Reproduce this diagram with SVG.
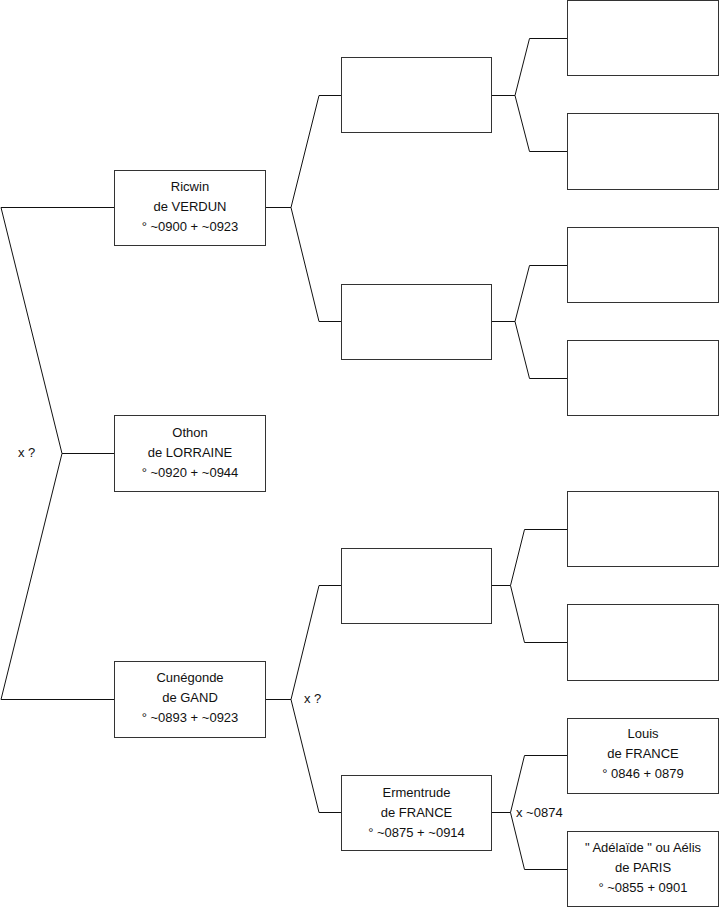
<svg xmlns="http://www.w3.org/2000/svg" width="719" height="908" viewBox="0 0 719 908">
<style>
.box{fill:#fff;stroke:#333;stroke-width:1}
.c{fill:none;stroke:#111;stroke-width:1}
text{font-family:"Liberation Sans",Arial,sans-serif;font-size:13px;fill:#111}
.t{text-anchor:middle}
</style>
<rect width="719" height="908" fill="#fff"/>
<g id="connectors">
<polyline class="c" points="114,207.5 1,207.5 62,453.5 114,453.5"/>
<polyline class="c" points="62,453.5 1,699.5 114,699.5"/>
<polyline class="c" points="265,207.5 291,207.5 319,95.5 341,95.5"/>
<polyline class="c" points="291,207.5 319,321.5 341,321.5"/>
<polyline class="c" points="265,699.5 291,699.5 319,585.5 341,585.5"/>
<polyline class="c" points="291,699.5 319,812.5 341,812.5"/>
<polyline class="c" points="491,95.5 515,95.5 529.5,38.5 567,38.5"/>
<polyline class="c" points="515,95.5 529.5,151.5 567,151.5"/>
<polyline class="c" points="491,321.5 515,321.5 529.5,265.5 567,265.5"/>
<polyline class="c" points="515,321.5 529.5,378.5 567,378.5"/>
<polyline class="c" points="491,585.5 510.5,585.5 524.5,529.5 567,529.5"/>
<polyline class="c" points="510.5,585.5 524.5,642.5 567,642.5"/>
<polyline class="c" points="491,812.5 510.5,812.5 524.5,755.5 567,755.5"/>
<polyline class="c" points="510.5,812.5 524.5,869.5 567,869.5"/>
<text x="18" y="457">x ?</text>
<text x="304" y="703">x ?</text>
<text x="516" y="817">x ~0874</text>
</g>
<g id="ricwin">
<rect class="box" x="114.5" y="170.5" width="151" height="75"/>
<text class="t" x="190" y="191">Ricwin</text>
<text class="t" x="190" y="211">de VERDUN</text>
<text class="t" x="190" y="231">° ~0900 + ~0923</text>
</g>
<g id="othon">
<rect class="box" x="114.5" y="415.5" width="151" height="76"/>
<text class="t" x="190" y="437">Othon</text>
<text class="t" x="190" y="457">de LORRAINE</text>
<text class="t" x="190" y="477">° ~0920 + ~0944</text>
</g>
<g id="cunegonde">
<rect class="box" x="114.5" y="661.5" width="151" height="76"/>
<text class="t" x="190" y="682">Cunégonde</text>
<text class="t" x="190" y="702">de GAND</text>
<text class="t" x="190" y="722">° ~0893 + ~0923</text>
</g>
<g id="p2a"><rect class="box" x="341.5" y="57.5" width="150" height="75"/></g>
<g id="p2b"><rect class="box" x="341.5" y="284.5" width="150" height="75"/></g>
<g id="p2c"><rect class="box" x="341.5" y="548.5" width="150" height="75"/></g>
<g id="ermentrude">
<rect class="box" x="341.5" y="775.5" width="150" height="75"/>
<text class="t" x="416.5" y="797">Ermentrude</text>
<text class="t" x="416.5" y="817">de FRANCE</text>
<text class="t" x="416.5" y="837">° ~0875 + ~0914</text>
</g>
<g id="p3a"><rect class="box" x="567.5" y="0.5" width="151" height="75"/></g>
<g id="p3b"><rect class="box" x="567.5" y="113.5" width="151" height="76"/></g>
<g id="p3c"><rect class="box" x="567.5" y="227.5" width="151" height="75"/></g>
<g id="p3d"><rect class="box" x="567.5" y="340.5" width="151" height="75"/></g>
<g id="p3e"><rect class="box" x="567.5" y="491.5" width="151" height="75"/></g>
<g id="p3f"><rect class="box" x="567.5" y="604.5" width="151" height="76"/></g>
<g id="louis">
<rect class="box" x="567.5" y="718.5" width="151" height="75"/>
<text class="t" x="643" y="738">Louis</text>
<text class="t" x="643" y="758">de FRANCE</text>
<text class="t" x="643" y="778">° 0846 + 0879</text>
</g>
<g id="adelaide">
<rect class="box" x="567.5" y="831.5" width="151" height="75"/>
<text class="t" x="643" y="852">" Adélaïde " ou Aélis</text>
<text class="t" x="643" y="872">de PARIS</text>
<text class="t" x="643" y="892">° ~0855 + 0901</text>
</g>
</svg>
